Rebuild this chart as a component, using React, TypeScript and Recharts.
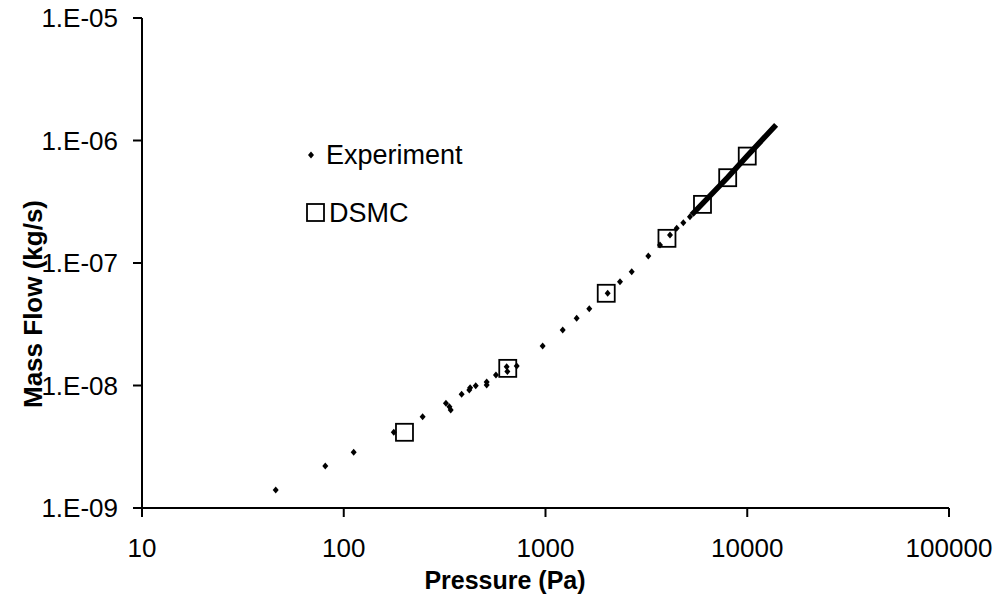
import { ScatterChart, Scatter, XAxis, YAxis } from 'recharts';

// values
const expPressure = [46, 81, 112, 177, 246, 321, 334, 339, 384, 419, 423, 451, 511, 511, 568, 642, 647, 720, 968, 1217, 1427, 1648, 2033, 2340, 2675, 3233, 3694, 4141, 4470, 4820, 5200];
const expFlow = [1.4e-9, 2.2e-9, 2.85e-9, 4.15e-9, 5.56e-9, 7.16e-9, 6.71e-9, 6.31e-9, 8.47e-9, 9.19e-9, 9.6e-9, 9.96e-9, 1.07e-8, 1.01e-8, 1.22e-8, 1.42e-8, 1.3e-8, 1.44e-8, 2.1e-8, 2.84e-8, 3.54e-8, 4.24e-8, 5.66e-8, 7.04e-8, 8.49e-8, 1.14e-7, 1.4e-7, 1.69e-7, 1.92e-7, 2.13e-7, 2.39e-7];

// the dense run of experiment points at high pressure merges into a thick line
const denseExpPressure = [5300, 8000, 10000, 13900];
const denseExpFlow = [2.47e-7, 5.0e-7, 7.5e-7, 1.34e-6];

const dsmcPressure = [200, 650, 2000, 4000, 6000, 8000, 10000];
const dsmcFlow = [4.15e-9, 1.38e-8, 5.66e-8, 1.59e-7, 3.01e-7, 4.97e-7, 7.46e-7];

const xTicks = [10, 100, 1000, 10000, 100000];
const xTickLabels = ['10', '100', '1000', '10000', '100000'];
const yTicks = [1e-9, 1e-8, 1e-7, 1e-6, 1e-5];
const yTickLabels = ['1.E-09', '1.E-08', '1.E-07', '1.E-06', '1.E-05'];

const FONT = '"Liberation Sans", Arial, sans-serif';

const expData = expPressure.map((p, i) => ({ p, f: expFlow[i] }));
const denseData = denseExpPressure.map((p, i) => ({ p, f: denseExpFlow[i] }));
const dsmcData = dsmcPressure.map((p, i) => ({ p, f: dsmcFlow[i] }));

function Diamond({ cx, cy }: any) {
  return <polygon points={`${cx},${cy - 3.5} ${cx + 3},${cy} ${cx},${cy + 3.5} ${cx - 3},${cy}`} fill="#000" />;
}

function Square({ cx, cy }: any) {
  return <rect x={cx - 8.5} y={cy - 8.5} width={17} height={17} fill="none" stroke="#000" strokeWidth={1.8} />;
}

function NoDot() {
  return <g />;
}

function labelFor(ticks: number[], labels: string[], v: number) {
  const i = ticks.findIndex(t => Math.abs(Math.log10(t) - Math.log10(v)) < 1e-6);
  return i >= 0 ? labels[i] : String(v);
}

export default function App() {
  return (
    <div style={{ position: 'absolute', left: 0, top: 0, width: 1003, height: 596, background: '#fff' }}>
      <ScatterChart width={1003} height={596} margin={{ top: 18, right: 54, bottom: 0, left: 0 }}>
        <XAxis
          type="number"
          dataKey="p"
          scale="log"
          domain={[10, 100000]}
          ticks={xTicks}
          allowDataOverflow
          height={88}
          tickSize={9}
          tickMargin={22}
          axisLine={{ stroke: '#000', strokeWidth: 2 }}
          tickLine={{ stroke: '#000', strokeWidth: 2 }}
          tick={{ fill: '#000', fontSize: 26, fontFamily: FONT }}
          tickFormatter={v => labelFor(xTicks, xTickLabels, v)}
        />
        <YAxis
          type="number"
          dataKey="f"
          scale="log"
          domain={[1e-9, 1e-5]}
          ticks={yTicks}
          allowDataOverflow
          width={142}
          tickSize={9}
          tickMargin={15}
          axisLine={{ stroke: '#000', strokeWidth: 2 }}
          tickLine={{ stroke: '#000', strokeWidth: 2 }}
          tick={{ fill: '#000', fontSize: 26, fontFamily: FONT }}
          tickFormatter={v => labelFor(yTicks, yTickLabels, v)}
        />
        <Scatter data={denseData} line={{ stroke: '#000', strokeWidth: 5.5 }} shape={NoDot} isAnimationActive={false} />
        <Scatter data={expData} shape={Diamond} isAnimationActive={false} />
        <Scatter data={dsmcData} shape={Square} isAnimationActive={false} />
      </ScatterChart>
      <svg width={1003} height={596} style={{ position: 'absolute', left: 0, top: 0, pointerEvents: 'none' }}>
        <text x={42} y={304} transform="rotate(-90 42 304)" textAnchor="middle" fontFamily={FONT} fontWeight="bold" fontSize={26} fill="#000">
          Mass Flow (kg/s)
        </text>
        <text x={505} y={589} textAnchor="middle" fontFamily={FONT} fontWeight="bold" fontSize={25} fill="#000">
          Pressure (Pa)
        </text>
        <polygon points="311,151.5 314,155 311,158.5 308,155" fill="#000" />
        <text x={326} y={164} fontFamily={FONT} fontSize={27} fill="#000">Experiment</text>
        <rect x={307} y={204} width={17} height={17} fill="none" stroke="#000" strokeWidth={1.8} />
        <text x={329} y={222} fontFamily={FONT} fontSize={27} fill="#000">DSMC</text>
      </svg>
    </div>
  );
}
